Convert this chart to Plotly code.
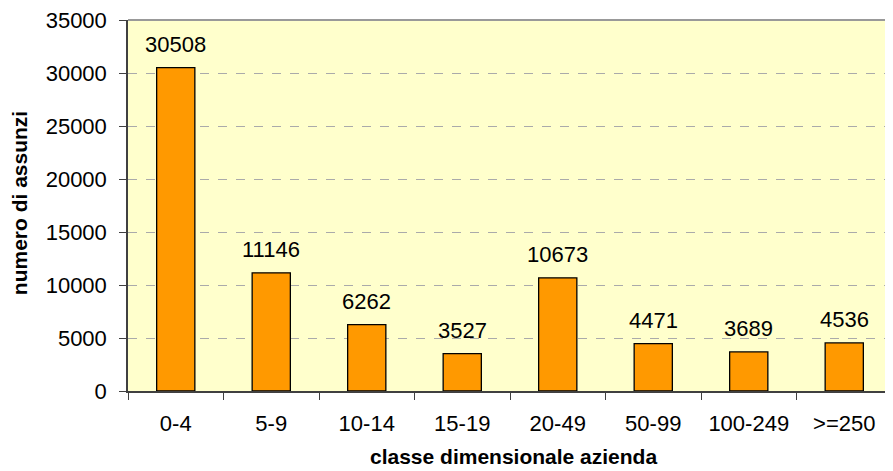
import plotly.graph_objects as go

# classi dimensionali e numero di assunzioni
classi = ['0-4', '5-9', '10-14', '15-19', '20-49', '50-99', '100-249', '>=250']
assunzioni = [30508, 11146, 6262, 3527, 10673, 4471, 3689, 4536]
y_ticks = [0, 5000, 10000, 15000, 20000, 25000, 30000, 35000]
y_labels = [str(v) for v in y_ticks]

font_family = 'Liberation Sans, Arial, sans-serif'

fig = go.Figure()
fig.add_trace(go.Bar(
    x=classi, y=assunzioni,
    width=0.4,
    marker=dict(color='#FF9900', line=dict(color='black', width=1.3)),
    hoverinfo='x+y',
))

# etichette sopra le barre
for c, v in zip(classi, assunzioni):
    fig.add_annotation(x=c, y=v, text=str(v), showarrow=False,
                       yanchor='bottom', yshift=9,
                       font=dict(size=22, color='black', family=font_family))

# titoli assi
fig.add_annotation(xref='paper', yref='paper', x=-0.141, y=0.507,
                   text='<b>numero di assunzi</b>', textangle=-90, showarrow=False,
                   xanchor='center', yanchor='middle',
                   font=dict(size=21, color='black', family=font_family))
fig.add_annotation(xref='paper', yref='paper', x=0.504, y=0,
                   yshift=-65, borderpad=0,
                   text='<b>classe dimensionale azienda</b>', showarrow=False,
                   xanchor='center', yanchor='middle',
                   font=dict(size=21, color='black', family=font_family))

# bordo superiore
fig.add_shape(type='line', xref='paper', yref='paper', x0=0, x1=1, y0=1, y1=1,
              line=dict(color='#999999', width=2))

# la pagina aggiunge 8px di margine: dimensioni compensate
fig.update_layout(
    width=885, height=463,
    margin=dict(l=120, r=1, t=12, b=80),
    paper_bgcolor='white',
    plot_bgcolor='#FFFFCC',
    showlegend=False,
    font=dict(family=font_family, size=22, color='black'),
    xaxis=dict(
        type='category', tickson='boundaries', ticks='outside', ticklen=7,
        tickcolor='#404040', showline=True, linecolor='#404040', linewidth=1.5,
        showgrid=False, ticklabelstandoff=12,
        tickfont=dict(size=22, family=font_family, color='black'),
    ),
    yaxis=dict(
        range=[0, 35000], tickvals=y_ticks, ticktext=y_labels, ticks='outside', ticklen=7,
        tickcolor='#404040', showline=True, linecolor='#404040', linewidth=1.5,
        showgrid=True, gridcolor='#AAAAAA', griddash='dash', gridwidth=1,
        zeroline=False, ticklabelstandoff=8, ticklabeloverflow='allow',
        tickfont=dict(size=22, family=font_family, color='black'),
    ),
)

fig.write_html('out.html')
